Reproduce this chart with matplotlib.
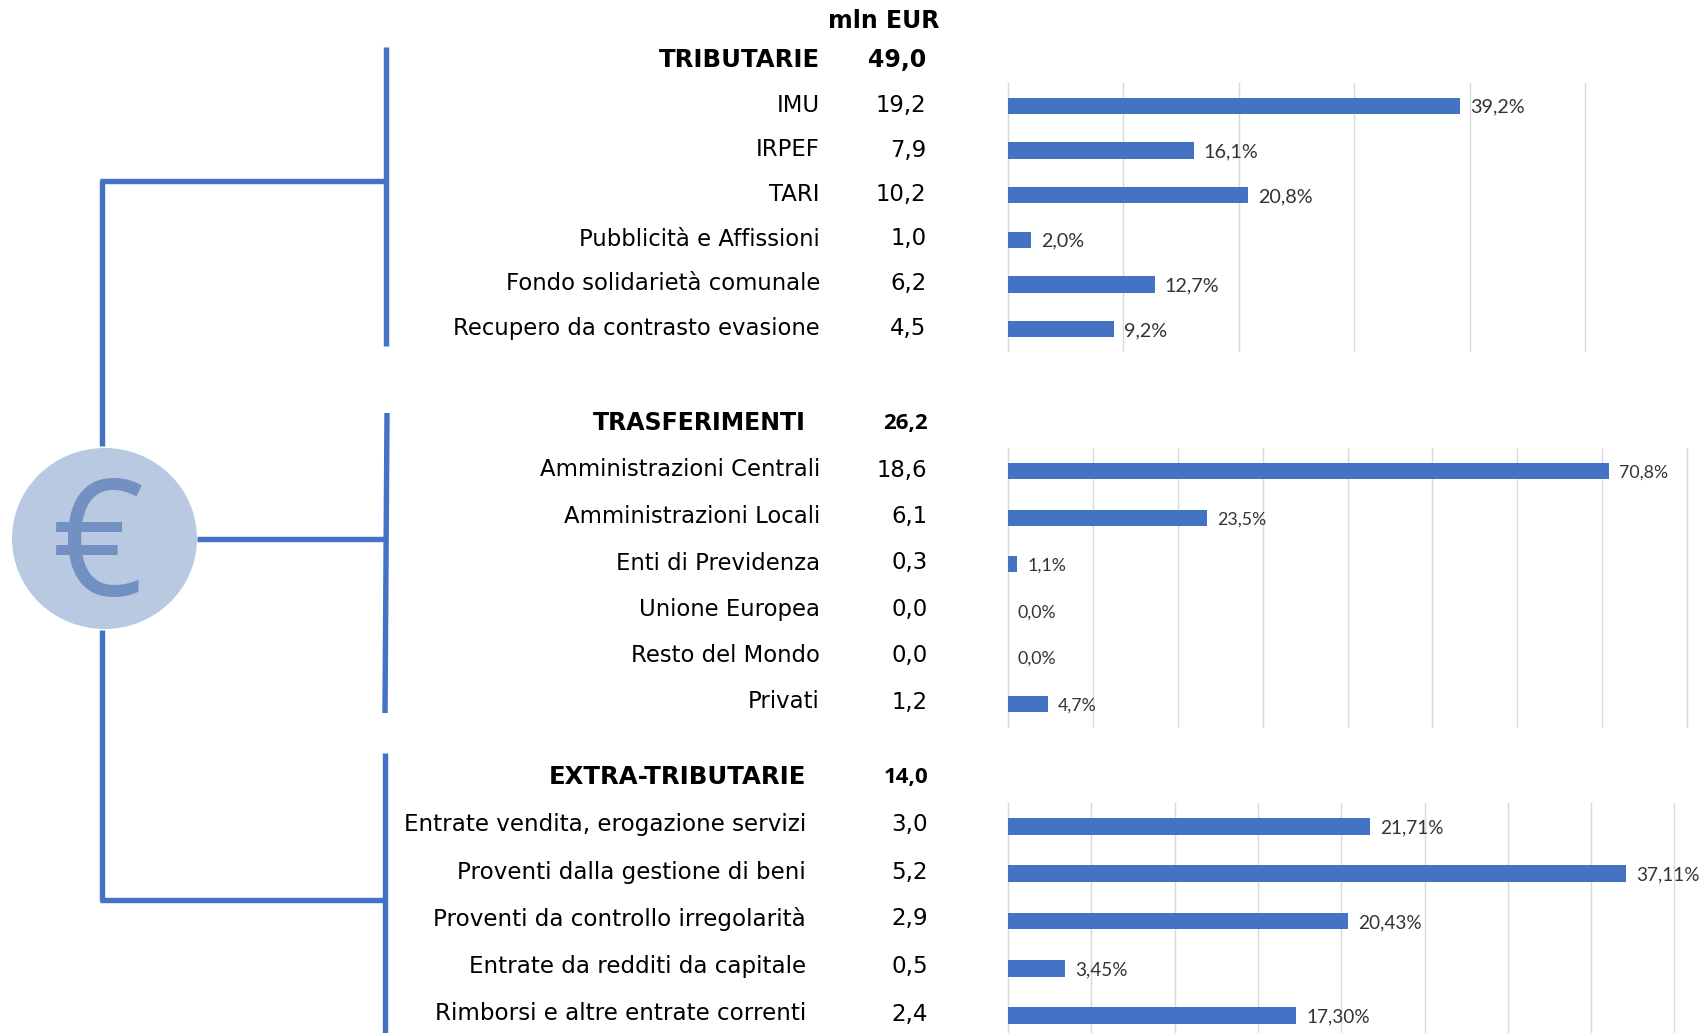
import matplotlib
matplotlib.use("Agg")
import matplotlib.pyplot as plt
from matplotlib.patches import Ellipse

# ---------- data ----------
unit_label = "mln EUR"
group_names = ["TRIBUTARIE", "TRASFERIMENTI", "EXTRA-TRIBUTARIE"]
group_totals = ["49,0", "26,2", "14,0"]

trib_cats = ["IMU", "IRPEF", "TARI", "Pubblicità e Affissioni",
             "Fondo solidarietà comunale", "Recupero da contrasto evasione"]
trib_vals = ["19,2", "7,9", "10,2", "1,0", "6,2", "4,5"]
trib_pct = [39.2, 16.1, 20.8, 2.0, 12.7, 9.2]

tras_cats = ["Amministrazioni Centrali", "Amministrazioni Locali", "Enti di Previdenza",
             "Unione Europea", "Resto del Mondo", "Privati"]
tras_vals = ["18,6", "6,1", "0,3", "0,0", "0,0", "1,2"]
tras_pct = [70.8, 23.5, 1.1, 0.0, 0.0, 4.7]

extra_cats = ["Entrate vendita, erogazione servizi", "Proventi dalla gestione di beni",
              "Proventi da controllo irregolarità", "Entrate da redditi da capitale",
              "Rimborsi e altre entrate correnti"]
extra_vals = ["3,0", "5,2", "2,9", "0,5", "2,4"]
extra_pct = [21.71, 37.11, 20.43, 3.45, 17.30]

# ---------- layout (pixels) ----------
W, H = 1700, 1033
BLUE = "#4472C4"
GRID = "#D9D9D9"
fig = plt.figure(figsize=(W / 100, H / 100), dpi=100, facecolor="white")
bg = fig.add_axes([0, 0, 1, 1], zorder=0)
bg.set_xlim(0, W)
bg.set_ylim(H, 0)
bg.axis("off")

LBL = dict(family="DejaVu Sans", fontsize=16.4, color="black", va="center", ha="right")
BOLD = dict(family="DejaVu Sans", fontsize=17.6, color="black", va="center", ha="right", fontweight="bold")
BOLDV = dict(family="DejaVu Sans", fontsize=17, color="black", va="center", ha="right", fontweight="bold")

# connectors
lw = 3.9
def line(xs, ys):
    bg.plot(xs, ys, color=BLUE, lw=lw, solid_capstyle="butt", zorder=1)
line([102.5, 102.5], [180, 446])
line([102.5, 102.5], [630, 901])
line([100, 388], [180.5, 180.5])
line([197, 385], [539, 539])
line([100, 387], [899.5, 899.5])
line([386.5, 386.5], [47, 346])
line([387, 385], [413, 713])
line([385, 385], [753, 1033])
bg.add_patch(Ellipse((104.5, 538.5), 185, 181, facecolor="#B9C9E2", edgecolor="none", zorder=2))
bg.text(98, 553, "€", family="Open Sans", fontsize=116, fontweight="medium", color="#7390C3",
        ha="center", va="center", zorder=3)

bg.text(883.5, 21.5, unit_label, **{**BOLDV, "ha": "center"})

def panel(rect_px, xmax, step, pct, fmt, bar_h, lab_size):
    x0, y0, w, h = rect_px
    ax = fig.add_axes([x0 / W, 1 - (y0 + h) / H, w / W, h / H], zorder=1)
    ax.patch.set_alpha(0)
    ax.set_xlim(0, xmax)
    ax.set_ylim(len(pct) - 0.5, -0.5)
    ax.barh(range(len(pct)), pct, height=bar_h, color=BLUE, zorder=3)
    ax.set_xticks([step * i for i in range(int(xmax / step) + 1)])
    ax.set_yticks([])
    ax.tick_params(length=0, labelbottom=False)
    ax.grid(axis="x", color=GRID, lw=1, clip_on=False)
    ax.set_axisbelow(True)
    for s in ax.spines.values():
        s.set_visible(False)
    for i, v in enumerate(pct):
        ax.annotate(fmt(v), (v, i), xytext=(10 * 0.72, -1), textcoords="offset points",
                    va="center", ha="left", family="Lato", fontsize=lab_size,
                    color="#333333", annotation_clip=False)

one = lambda v: f"{v:.1f}%".replace(".", ",")
two = lambda v: f"{v:.2f}%".replace(".", ",")
panel((1008, 83.5, 577, 268), 50, 10, trib_pct, one, 0.36, 14.2)
panel((1008, 448, 679, 279), 80, 10, tras_pct, one, 0.34, 12.8)
panel((1008, 803, 666.5, 236), 40, 5, extra_pct, two, 0.36, 13.7)

def rows(cats, vals, ys, xl, xv, size=16.4):
    for c, v, y in zip(cats, vals, ys):
        bg.text(xl, y, c, **{**LBL, "fontsize": size})
        bg.text(xv, y, v, **{**LBL, "fontsize": size})

# group headers
bg.text(820, 60, group_names[0], **BOLD)
bg.text(926, 60, group_totals[0], **BOLDV)
bg.text(806, 423, group_names[1], **{**BOLD, "fontsize": 17})
bg.text(928, 423.5, group_totals[1], family="Open Sans", fontsize=16, fontweight="bold",
        ha="right", va="center")
bg.text(806, 777, group_names[2], **BOLD)
bg.text(928, 778, group_totals[2], family="Open Sans", fontsize=16, fontweight="bold",
        ha="right", va="center")

rows(trib_cats, trib_vals, [105.5, 150, 194.5, 239, 283.5, 328], 820, 926.5)
rows(tras_cats, tras_vals, [470, 516.5, 563, 609.5, 655.5, 702], 820, 927.5)
rows(extra_cats, extra_vals, [825, 872, 919, 967, 1014], 806, 928, size=16.6)

fig.savefig("out.png", dpi=100, facecolor="white")
